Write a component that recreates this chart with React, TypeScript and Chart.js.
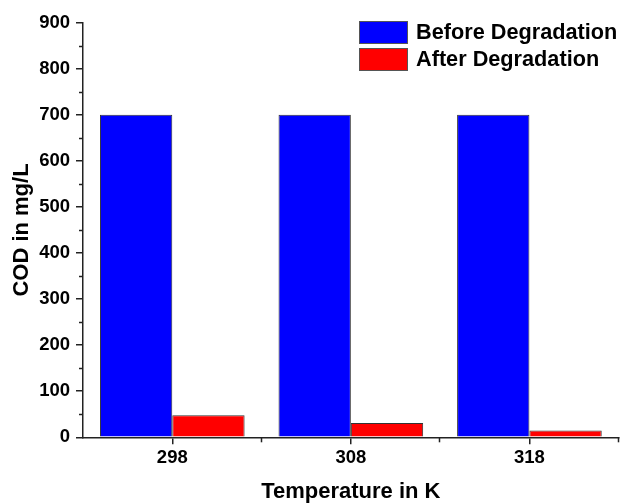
import React, { useEffect, useRef } from "react";
import { Chart, registerables } from "chart.js";

Chart.register(...registerables);

const categories = ["298", "308", "318"];
const beforeValues = [700, 700, 700];
const afterValues = [48, 31, 15];
const seriesLabels = ["Before Degradation", "After Degradation"];
const seriesColors = ["#0000FF", "#FF0000"];
const yMinorTicks = [50, 150, 250, 350, 450, 550, 650, 750, 850];
const xTitle = "Temperature in K";
const yTitle = "COD in mg/L";

const FONT = "'Liberation Sans', Arial, sans-serif";
const AXIS_COLOR = "#222222";

const decorPlugin = {
  id: "decor",
  afterDraw(chart: any) {
    const ctx = chart.ctx;
    const xs = chart.scales.x;
    const ys = chart.scales.y;
    const area = chart.chartArea;
    ctx.save();
    ctx.strokeStyle = AXIS_COLOR;
    ctx.lineWidth = 1.5;
    // y minor ticks
    yMinorTicks.forEach((v) => {
      const py = Math.round(ys.getPixelForValue(v)) + 0.5;
      ctx.beginPath();
      ctx.moveTo(area.left, py);
      ctx.lineTo(area.left - 4, py);
      ctx.stroke();
    });
    // x minor ticks at category boundaries
    const n = categories.length;
    for (let i = 0; i < n; i++) {
      const c = xs.getPixelForValue(i);
      const next = i + 1 < n ? xs.getPixelForValue(i + 1) : c + (c - xs.getPixelForValue(i - 1));
      const px = Math.round((c + next) / 2) - 0.5;
      ctx.beginPath();
      ctx.moveTo(px, area.bottom);
      ctx.lineTo(px, area.bottom + 5);
      ctx.stroke();
    }
    // legend
    const boxX = 359;
    const boxW = 49;
    const boxH = 23;
    const tops = [21, 48];
    ctx.font = `bold 21.7px ${FONT}`;
    ctx.textBaseline = "middle";
    ctx.textAlign = "left";
    chart.data.datasets.forEach((ds: any, i: number) => {
      ctx.fillStyle = ds.backgroundColor;
      ctx.fillRect(boxX, tops[i], boxW, boxH);
      ctx.lineWidth = 1;
      ctx.strokeStyle = "#555555";
      ctx.strokeRect(boxX + 0.5, tops[i] + 0.5, boxW - 1, boxH - 1);
      ctx.fillStyle = "#000000";
      ctx.fillText(ds.label, 416, tops[i] + boxH / 2 + 1);
    });
    ctx.restore();
  },
};

export default function App() {
  const ref = useRef<HTMLCanvasElement | null>(null);
  useEffect(() => {
    if (!ref.current) return;
    const chart = new Chart(ref.current, {
      type: "bar",
      data: {
        labels: categories,
        datasets: [
          {
            label: seriesLabels[0],
            data: beforeValues,
            backgroundColor: seriesColors[0],
            borderColor: "#333333",
            borderWidth: 1,
            categoryPercentage: 0.81,
            barPercentage: 1,
          },
          {
            label: seriesLabels[1],
            data: afterValues,
            backgroundColor: seriesColors[1],
            borderColor: "#333333",
            borderWidth: 1,
            categoryPercentage: 0.81,
            barPercentage: 1,
          },
        ],
      },
      options: {
        responsive: false,
        animation: false,
        maintainAspectRatio: false,
        layout: { padding: { top: 22.7, right: 6.3, left: 0, bottom: 0 } },
        plugins: {
          legend: { display: false },
          tooltip: { enabled: false },
        },
        scales: {
          x: {
            type: "category",
            offset: true,
            grid: {
              offset: false,
              drawOnChartArea: false,
              drawTicks: true,
              tickLength: 7,
              color: AXIS_COLOR,
              lineWidth: 1.5,
            },
            border: { display: true, color: AXIS_COLOR, width: 1.5 },
            ticks: {
              color: "#000000",
              font: { family: FONT, size: 18.5, weight: "bold" },
              padding: 3,
              maxRotation: 0,
            },
            title: {
              display: true,
              text: xTitle,
              color: "#000000",
              font: { family: FONT, size: 22, weight: "bold" },
              padding: { top: 0, bottom: -2 },
            },
            afterFit: (s: any) => {
              s.height = 65.7;
            },
          },
          y: {
            min: 0,
            max: 900,
            ticks: {
              stepSize: 100,
              color: "#000000",
              font: { family: FONT, size: 18.5, weight: "bold" },
              padding: 6,
            },
            grid: {
              drawOnChartArea: false,
              drawTicks: true,
              tickLength: 7,
              color: AXIS_COLOR,
              lineWidth: 1.5,
            },
            border: { display: true, color: AXIS_COLOR, width: 1.5 },
            title: {
              display: true,
              text: yTitle,
              color: "#000000",
              font: { family: FONT, size: 22, weight: "bold" },
              padding: { top: 9, bottom: 0 },
            },
            afterFit: (s: any) => {
              s.width = 83;
            },
          },
        },
      },
      plugins: [decorPlugin],
    });
    return () => chart.destroy();
  }, []);
  return (
    <div style={{ position: "fixed", left: 0, top: 0, width: 625, height: 503, background: "#ffffff" }}>
      <canvas ref={ref} width={625} height={503} style={{ display: "block" }} />
    </div>
  );
}
